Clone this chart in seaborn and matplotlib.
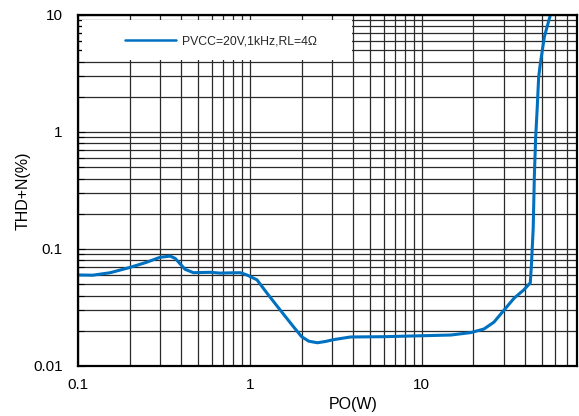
import matplotlib
matplotlib.use("Agg")
import matplotlib.pyplot as plt
from matplotlib.patches import Rectangle
from matplotlib.ticker import LogLocator, NullFormatter, FixedLocator, FixedFormatter
import seaborn as sns
import pandas as pd

# Data
po_w = [0.1, 0.122, 0.154, 0.2, 0.25, 0.30, 0.344, 0.368, 0.42, 0.47, 0.53,
        0.59, 0.67, 0.76, 0.88, 0.96, 1.1, 1.26, 1.45, 1.8, 2.0, 2.2, 2.47,
        2.75, 3.07, 3.85, 6.0, 9.5, 14.8, 19.3, 23.0, 26.3, 30.1, 34.4, 39.3,
        42.8, 43.5, 44.5, 45.2, 46.0, 46.9, 47.9, 49.0, 51.7, 56.0]
thd_n = [0.060, 0.0597, 0.0627, 0.0695, 0.0769, 0.0849, 0.087, 0.083, 0.067,
         0.0627, 0.063, 0.0632, 0.0622, 0.0625, 0.0627, 0.060, 0.0545, 0.0418,
         0.0321, 0.0215, 0.0178, 0.0163, 0.0158, 0.0162, 0.0168, 0.0177,
         0.0178, 0.0181, 0.0184, 0.0193, 0.0207, 0.0237, 0.0300, 0.0379,
         0.0448, 0.0514, 0.075, 0.15, 0.42, 0.9, 1.54, 2.97, 3.86, 6.53, 10.0]
series_label = "PVCC=20V,1kHz,RL=4\u03a9"
x_ticks = [0.1, 1, 10]
x_tick_labels = ["0.1", "1", "10"]
y_ticks = [0.01, 0.1, 1, 10]
y_tick_labels = ["0.01", "0.1", "1", "10"]

sns.set_theme(style="white")
plt.rcParams["font.family"] = ["Liberation Sans", "DejaVu Sans"]

df = pd.DataFrame({"PO(W)": po_w, "THD+N(%)": thd_n})

fig = plt.figure(figsize=(5.79, 4.16), dpi=100)
ax = fig.add_axes([0.1347, 0.1202, 0.8618, 0.8438])
ax.set_xscale("log")
ax.set_yscale("log")

sns.lineplot(data=df, x="PO(W)", y="THD+N(%)", ax=ax, color="#0070C0",
             linewidth=2.2, label=series_label, zorder=5)

ax.set_xlim(0.1, 80)
ax.set_ylim(0.01, 10)

ax.xaxis.set_major_locator(FixedLocator(x_ticks))
ax.xaxis.set_major_formatter(FixedFormatter(x_tick_labels))
ax.yaxis.set_major_locator(FixedLocator(y_ticks))
ax.yaxis.set_major_formatter(FixedFormatter(y_tick_labels))
ax.xaxis.set_minor_locator(LogLocator(base=10, subs=range(2, 10)))
ax.yaxis.set_minor_locator(LogLocator(base=10, subs=range(2, 10)))
ax.xaxis.set_minor_formatter(NullFormatter())
ax.yaxis.set_minor_formatter(NullFormatter())

ax.grid(True, which="both", color="#2a2a2a", linewidth=0.9, zorder=1)
ax.set_axisbelow(True)

ax.tick_params(axis="both", which="both", direction="in", labelsize=11,
               colors="black", labelcolor="black")
ax.tick_params(axis="y", which="major", length=5, width=0.8, pad=11, left=True)
ax.tick_params(axis="y", which="minor", length=4, width=0.8, left=True)
ax.tick_params(axis="x", which="both", length=0, pad=9)

for s in ax.spines.values():
    s.set_visible(True)
    s.set_color("black")
    s.set_linewidth(1.6)
    s.set_zorder(6)

ax.set_xlabel("PO(W)", fontsize=11.5, color="black")
ax.set_ylabel("THD+N(%)", fontsize=11.5, color="black")
ax.xaxis.set_label_coords(0.551, -0.087)
ax.yaxis.set_label_coords(-0.094, 0.5)

# white box behind legend
ax.add_patch(Rectangle((0.008, 0.872), 0.541, 0.114, transform=ax.transAxes,
                       facecolor="white", edgecolor="none", zorder=3))
leg = ax.legend(loc="center left", bbox_to_anchor=(0.094, 0.924),
                frameon=False, fontsize=8.8, borderpad=0, borderaxespad=0,
                handlelength=4.2, handletextpad=0.5)
leg.set_zorder(7)
for line in leg.get_lines():
    line.set_linewidth(1.8)

fig.savefig("out.png", dpi=100, facecolor="white")
